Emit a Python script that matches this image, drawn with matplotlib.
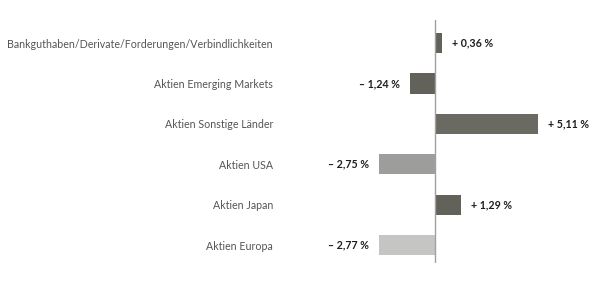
import matplotlib
matplotlib.use("Agg")
import matplotlib.pyplot as plt

categories = [
    "Bankguthaben/Derivate/Forderungen/Verbindlichkeiten",
    "Aktien Emerging Markets",
    "Aktien Sonstige Länder",
    "Aktien USA",
    "Aktien Japan",
    "Aktien Europa",
]
values = [0.36, -1.24, 5.11, -2.75, 1.29, -2.77]
labels = ["+ 0,36 %", "– 1,24 %", "+ 5,11 %", "– 2,75 %", "+ 1,29 %", "– 2,77 %"]
colors = ["#62625a", "#62625a", "#6a6a63", "#9d9d9b", "#62625a", "#c5c5c3"]

plt.rcParams["font.family"] = ["Lato", "DejaVu Sans"]

W, H = 599, 302
fig = plt.figure(figsize=(W / 100, H / 100), dpi=100)
left_px, right_px, zero_px = 300, 590, 435
top_px, bot_px = 20, 263
ppu = 20.2
ax = fig.add_axes([left_px / W, (H - bot_px) / H, (right_px - left_px) / W, (bot_px - top_px) / H])
ax.set_xlim(-(zero_px - left_px) / ppu, (right_px - zero_px) / ppu)
ypos = list(range(len(categories)))
ax.set_ylim(5 + 18 / 40.4, -23 / 40.4)

ax.barh(ypos, values, height=0.5, color=colors)
ax.axvline(0, color="#a0a0a0", lw=1.0)

for y, v, lab in zip(ypos, values, labels):
    off = 0.5
    if v >= 0:
        ax.text(v + off, y, lab, ha="left", va="center", fontsize=7.7, fontweight="bold", color="#1e1e1e")
    else:
        ax.text(v - off, y, lab, ha="right", va="center", fontsize=7.7, fontweight="bold", color="#1e1e1e")

ax.set_yticks(ypos)
ax.set_yticklabels(categories, fontsize=7.7, color="#555555")
ax.tick_params(axis="y", length=0, pad=19.4)
ax.set_xticks([])
for s in ax.spines.values():
    s.set_visible(False)

fig.savefig("out.png", dpi=100)
